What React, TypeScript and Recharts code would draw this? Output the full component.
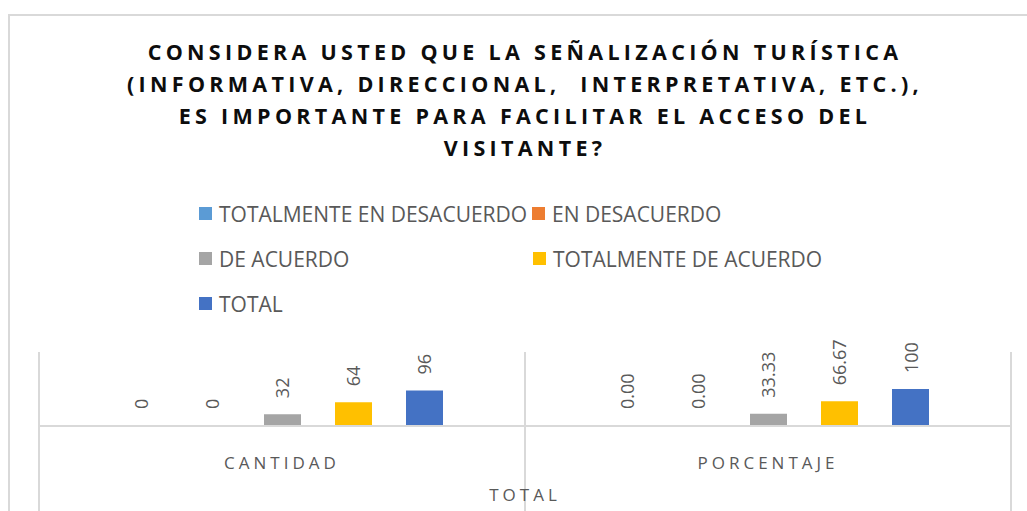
import React from 'react';
import { BarChart, Bar, XAxis, YAxis, Legend, LabelList, ReferenceLine } from 'recharts';

const categories = ['CANTIDAD', 'PORCENTAJE'];
const seriesNames = [
  'TOTALMENTE EN DESACUERDO',
  'EN DESACUERDO',
  'DE ACUERDO',
  'TOTALMENTE DE ACUERDO',
  'TOTAL',
];
const seriesColors = ['#5B9BD5', '#ED7D31', '#A5A5A5', '#FFC000', '#4472C4'];

const totalmenteEnDesacuerdo = [0, 0];
const enDesacuerdo = [0, 0];
const deAcuerdo = [32, 33.33];
const totalmenteDeAcuerdo = [64, 66.67];
const total = [96, 100];

const totalmenteEnDesacuerdoLabels = ['0', '0.00'];
const enDesacuerdoLabels = ['0', '0.00'];
const deAcuerdoLabels = ['32', '33.33'];
const totalmenteDeAcuerdoLabels = ['64', '66.67'];
const totalLabels = ['96', '100'];

const titleLines = [
  'CONSIDERA USTED QUE LA SEÑALIZACIÓN TURÍSTICA',
  '(INFORMATIVA, DIRECCIONAL,  INTERPRETATIVA, ETC.),',
  'ES IMPORTANTE PARA FACILITAR EL ACCESO DEL',
  'VISITANTE?',
];
const groupLabel = 'TOTAL';

const seriesValues = [totalmenteEnDesacuerdo, enDesacuerdo, deAcuerdo, totalmenteDeAcuerdo, total];
const seriesLabels = [
  totalmenteEnDesacuerdoLabels,
  enDesacuerdoLabels,
  deAcuerdoLabels,
  totalmenteDeAcuerdoLabels,
  totalLabels,
];

const data = categories.map((category, i) => {
  const row: Record<string, string | number> = { category };
  seriesValues.forEach((vals, s) => {
    row[`s${s}`] = vals[i];
  });
  return row;
});

// legend item placement (left offset in px, row index)
const legendPlacement = [
  { left: 0, row: 0 },
  { left: 333, row: 0 },
  { left: 0, row: 1 },
  { left: 334, row: 1 },
  { left: 0, row: 2 },
];

const FONT = '"Open Sans", sans-serif';
const GRID = '#d9d9d9';

const makeLabel = (s: number) => (props: any) => {
  const { x, y, width, height, index } = props;
  const cx = x + width / 2;
  const top = Math.min(y, y + (height || 0));
  const ty = top - 16;
  const text = seriesLabels[s][index];
  return (
    <text
      x={cx}
      y={ty}
      transform={`rotate(-90, ${cx}, ${ty})`}
      textAnchor="start"
      dominantBaseline="central"
      fill="#595959"
      fontSize={18}
      fontFamily={FONT}
    >
      {text}
    </text>
  );
};

const CategoryTick = (props: any) => {
  const { x, y, payload } = props;
  return (
    <text
      x={x}
      y={y + 28}
      textAnchor="middle"
      dominantBaseline="central"
      fill="#595959"
      fontSize={17}
      fontFamily={FONT}
      letterSpacing={4}
    >
      {payload.value}
    </text>
  );
};

const GroupLabel = (props: any) => {
  const { viewBox } = props;
  return (
    <text
      x={viewBox.x + viewBox.width / 2}
      y={494}
      textAnchor="middle"
      dominantBaseline="central"
      fill="#595959"
      fontSize={17}
      fontFamily={FONT}
      letterSpacing={4}
    >
      {groupLabel}
    </text>
  );
};

const LegendContent = (props: any) => {
  const { payload } = props;
  const items = seriesNames.map((name, s) => {
    const found = (payload || []).find((p: any) => p.value === name);
    return { name, color: found ? found.color : seriesColors[s] };
  });
  return (
    <div style={{ position: 'relative', width: 640, height: 135, fontFamily: FONT, fontSize: 21, color: '#595959' }}>
      {items.map((item, s) => (
        <div
          key={item.name}
          style={{
            position: 'absolute',
            left: legendPlacement[s].left,
            top: legendPlacement[s].row * 45,
            height: 45,
            display: 'flex',
            alignItems: 'center',
            whiteSpace: 'nowrap',
          }}
        >
          <span
            style={{
              display: 'inline-block',
              flexShrink: 0,
              width: 13,
              height: 13,
              background: item.color,
              marginRight: 7,
            }}
          />
          <span>{item.name}</span>
        </div>
      ))}
    </div>
  );
};

export default function App() {
  return (
    <div style={{ position: 'absolute', left: 0, top: 0, width: 1027, height: 511, background: '#fff', overflow: 'hidden' }}>
      <div
        style={{
          position: 'absolute',
          left: 8,
          top: 14,
          width: 1040,
          height: 520,
          border: `2px solid ${GRID}`,
          boxSizing: 'border-box',
        }}
      />
      <div
        style={{
          position: 'absolute',
          left: 0,
          width: 1050,
          top: 36,
          textAlign: 'center',
          fontFamily: FONT,
          fontWeight: 700,
          fontSize: 21.5,
          letterSpacing: 4.3,
          lineHeight: '32px',
          color: '#0d0d0d',
          whiteSpace: 'pre',
        }}
      >
        {titleLines.map((l) => (
          <div key={l}>{l}</div>
        ))}
      </div>
      <div style={{ position: 'absolute', left: 0, top: 0 }}>
        <BarChart
          width={1027}
          height={511}
          data={data}
          margin={{ top: 352, left: 39, right: 16, bottom: 0 }}
          barSize={37}
          barGap={34}
        >
          <YAxis hide domain={[0, 200]} />
          <Legend
            layout="horizontal"
            verticalAlign="middle"
            align="center"
            content={<LegendContent />}
            wrapperStyle={{ position: 'absolute', left: 199, top: 191, width: 640, height: 135 }}
          />
          {seriesNames.map((name, s) => (
            <Bar
              key={name}
              dataKey={`s${s}`}
              name={name}
              fill={seriesColors[s]}
              minPointSize={1}
              isAnimationActive={false}
            >
              <LabelList dataKey={`s${s}`} content={makeLabel(s)} />
            </Bar>
          ))}
          <XAxis
            dataKey="category"
            height={85}
            tickLine={false}
            axisLine={{ stroke: GRID, strokeWidth: 2 }}
            tick={<CategoryTick />}
            interval={0}
            label={<GroupLabel />}
          />
          <ReferenceLine
            segment={[{ x: 'CANTIDAD', y: 200 }, { x: 'CANTIDAD', y: -240 }]}
            position="start"
            ifOverflow="visible"
            stroke={GRID}
            strokeWidth={2}
          />
          <ReferenceLine
            segment={[{ x: 'PORCENTAJE', y: 200 }, { x: 'PORCENTAJE', y: -240 }]}
            position="start"
            ifOverflow="visible"
            stroke={GRID}
            strokeWidth={2}
          />
          <ReferenceLine
            segment={[{ x: 'PORCENTAJE', y: 200 }, { x: 'PORCENTAJE', y: -240 }]}
            position="end"
            ifOverflow="visible"
            stroke={GRID}
            strokeWidth={2}
          />
        </BarChart>
      </div>
    </div>
  );
}
